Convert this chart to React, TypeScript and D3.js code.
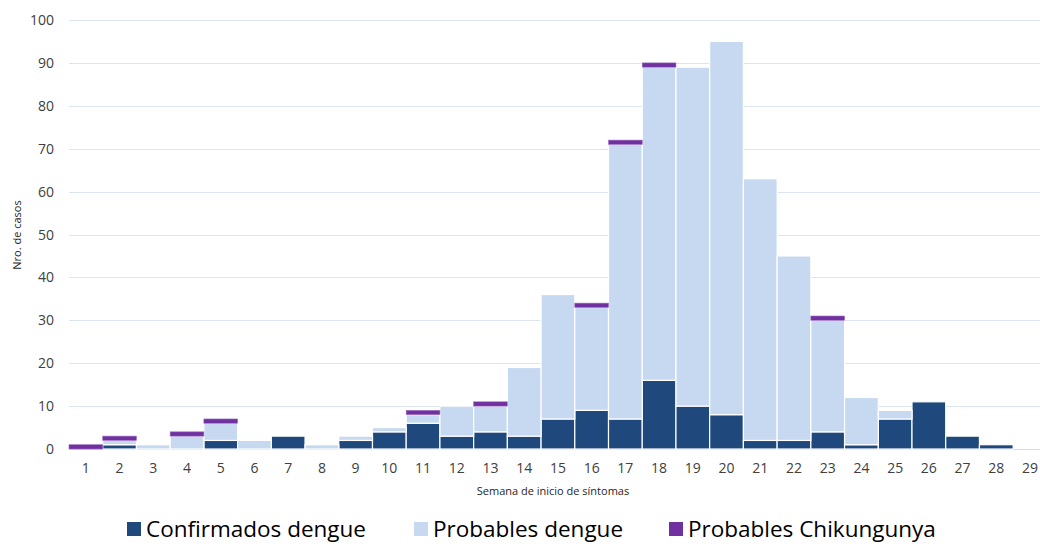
import { useEffect, useRef } from "react"
import * as d3 from "d3"

const weeks = d3.range(1, 30).map(String)
const confirmados = [0, 1, 0, 0, 2, 0, 3, 0, 2, 4, 6, 3, 4, 3, 7, 9, 7, 16, 10, 8, 2, 2, 4, 1, 7, 11, 3, 1, 0]
const probables = [0, 1, 1, 3, 4, 2, 0, 1, 1, 1, 2, 7, 6, 16, 29, 24, 64, 73, 79, 87, 61, 43, 26, 11, 2, 0, 0, 0, 0]
const chikungunya = [1, 1, 0, 1, 1, 0, 0, 0, 0, 0, 1, 0, 1, 0, 0, 1, 1, 1, 0, 0, 0, 0, 1, 0, 0, 0, 0, 0, 0]
const yTicks = [0, 10, 20, 30, 40, 50, 60, 70, 80, 90, 100]

const seriesNames = ["Confirmados dengue", "Probables dengue", "Probables Chikungunya"]
const colors = ["#1f497d", "#c6d9f1", "#7030a0"]

const W = 1040
const H = 544
const FONT = "'Open Sans', 'Noto Sans', sans-serif"

export default function App() {
  const svgRef = useRef<SVGSVGElement>(null)

  useEffect(() => {
    if (!svgRef.current) return
    const svg = d3.select(svgRef.current)
    svg.selectAll("*").remove()

    const left = 69
    const top = 20
    const bottom = 449
    const bandRight = left + 29 * 33.72

    const x = d3.scaleBand<string>().domain(weeks).range([left, bandRight]).padding(0)
    const y = d3.scaleLinear().domain([0, 100]).range([bottom, top])

    // gridlines
    svg
      .append("g")
      .selectAll("line")
      .data(yTicks)
      .enter()
      .append("line")
      .attr("x1", left)
      .attr("x2", W)
      .attr("y1", (d) => Math.round(y(d)) + 0.5)
      .attr("y2", (d) => Math.round(y(d)) + 0.5)
      .style("stroke", (d) => (d === 0 ? "#d9d9d9" : "#dbe5f1"))
      .style("stroke-width", 1)

    const rows = weeks.map((w, i) => ({
      week: w,
      c: confirmados[i],
      p: probables[i],
      k: chikungunya[i],
    }))
    const stack = d3.stack<(typeof rows)[number]>().keys(["c", "p", "k"])
    const layers = stack(rows as any)

    svg
      .append("g")
      .selectAll("g")
      .data(layers)
      .enter()
      .append("g")
      .style("fill", (_, i) => colors[i])
      .each(function (_, i) {
        d3.select(this)
          .style("stroke", i === 2 ? "#9a6cc0" : "#ffffff")
          .style("stroke-width", i === 2 ? 0.6 : 1.2)
      })
      .selectAll("rect")
      .data((d) => d.filter((s) => s[1] - s[0] > 0))
      .enter()
      .append("rect")
      .attr("x", (d) => x(d.data.week) as number)
      .attr("width", x.bandwidth())
      .attr("y", (d) => y(d[1]))
      .attr("height", (d) => y(d[0]) - y(d[1]))

    // y labels
    svg
      .append("g")
      .selectAll("text")
      .data(yTicks)
      .enter()
      .append("text")
      .attr("x", 54)
      .attr("y", (d) => y(d) + 5)
      .attr("text-anchor", "end")
      .style("font-family", FONT)
      .style("font-size", "14px")
      .style("fill", "#404040")
      .text((d) => d)

    // x labels
    svg
      .append("g")
      .selectAll("text")
      .data(weeks)
      .enter()
      .append("text")
      .attr("x", (d) => (x(d) as number) + x.bandwidth() / 2)
      .attr("y", 473)
      .attr("text-anchor", "middle")
      .style("font-family", FONT)
      .style("font-size", "14px")
      .style("fill", "#404040")
      .text((d) => d)

    svg
      .append("text")
      .attr("x", 553)
      .attr("y", 495)
      .attr("text-anchor", "middle")
      .style("font-family", FONT)
      .style("font-size", "11px")
      .style("fill", "#262626")
      .text("Semana de inicio de síntomas")

    svg
      .append("text")
      .attr("transform", "translate(21,235) rotate(-90)")
      .attr("text-anchor", "middle")
      .style("font-family", FONT)
      .style("font-size", "11px")
      .style("fill", "#262626")
      .text("Nro. de casos")

    // legend
    const legendX = [127, 414, 669]
    const lg = svg
      .append("g")
      .selectAll("g")
      .data(seriesNames)
      .enter()
      .append("g")
      .attr("transform", (_, i) => `translate(${legendX[i]},0)`)
    lg.append("rect")
      .attr("x", 0)
      .attr("y", 522)
      .attr("width", 14)
      .attr("height", 14)
      .style("fill", (_, i) => colors[i])
    lg.append("text")
      .attr("x", 19)
      .attr("y", 537)
      .style("font-family", FONT)
      .style("font-size", "22.5px")
      .style("fill", "#000000")
      .text((d) => d)
  }, [])

  return (
    <div style={{ position: "fixed", left: 0, top: 0, width: W, height: H, background: "#fff" }}>
      <svg ref={svgRef} width={W} height={H} style={{ display: "block" }} />
    </div>
  )
}
